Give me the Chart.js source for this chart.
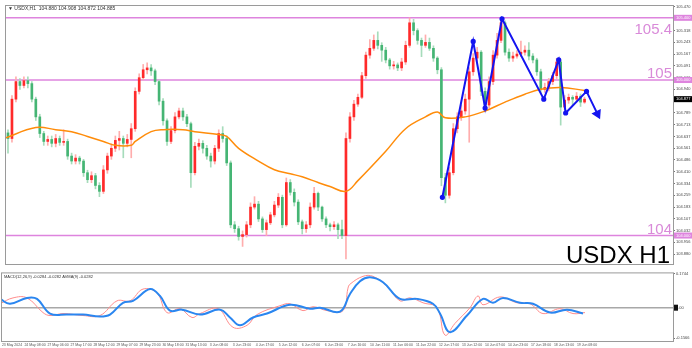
<!DOCTYPE html>
<html lang="en">
<head>
<meta charset="UTF-8">
<title>USDX H1</title>
<script src="https://cdn.jsdelivr.net/npm/chart.js"></script>
<style>
  body { margin: 0; background: #fff; }
  .painel { position: absolute; left: 0; width: 692px; }
  #principal { top: 0; height: 270px; }
  #inferior { top: 270px; height: 78px; }
</style>
</head>
<body>
<div class="painel" id="principal"><canvas id="grafPreco"></canvas></div>
<div class="painel" id="inferior"><canvas id="grafMacd"></canvas></div>

<script>
// ---- dados ----
var primeiraAbertura = 104.66;
var fechamentos = [104.624,104.877,104.990,104.965,104.996,104.977,104.877,104.763,104.656,104.605,
  104.618,104.593,104.624,104.599,104.605,104.511,104.479,104.498,104.479,104.404,
  104.359,104.385,104.322,104.284,104.422,104.511,104.561,104.612,104.624,104.593,
  104.618,104.687,104.927,105.015,105.066,105.078,105.059,104.990,104.864,104.738,
  104.605,104.675,104.763,104.801,104.763,104.719,104.404,104.574,104.593,104.561,
  104.511,104.479,104.561,104.656,104.624,104.467,104.069,104.044,103.994,104.006,
  104.069,104.183,104.202,104.107,104.038,104.082,104.133,104.196,104.246,104.069,
  104.341,104.278,104.215,104.088,104.044,104.069,104.183,104.271,104.183,104.107,
  104.069,104.057,104.069,104.038,104.000,104.624,104.763,104.845,104.889,105.028,
  105.160,105.204,105.255,105.223,105.192,105.129,105.091,105.097,105.078,105.116,
  105.223,105.368,105.318,105.255,105.223,105.242,105.204,105.141,105.066,104.372,
  104.259,104.404,104.687,104.763,104.801,104.877,105.053,105.141,105.179,104.927,
  104.839,104.990,105.160,105.255,105.368,105.179,105.141,105.154,105.167,105.179,
  105.192,105.154,105.129,105.053,104.940,104.952,104.990,105.028,105.116,104.826,
  104.871,104.889,104.877,104.896,104.858,104.877];
var maximas = [104.68,104.90,105.02,105.01,105.02,105.02,104.99,104.89,104.78,104.67,
  104.64,104.64,104.65,104.64,104.68,104.62,104.53,104.52,104.51,104.49,
  104.42,104.41,104.40,104.34,104.45,104.53,104.59,104.64,104.67,104.64,
  104.65,104.72,104.95,105.04,105.10,105.11,105.10,105.07,105.00,104.88,
  104.75,104.70,104.79,104.82,104.82,104.78,104.73,104.60,104.62,104.61,
  104.58,104.53,104.58,104.68,104.70,104.64,104.48,104.09,104.06,104.03,
  104.09,104.21,104.25,104.22,104.12,104.10,104.15,104.22,104.27,104.26,
  104.37,104.36,104.30,104.23,104.10,104.09,104.21,104.31,104.28,104.19,
  104.12,104.08,104.09,104.08,104.10,104.66,104.79,104.87,104.91,105.05,
  105.18,105.26,105.29,105.31,105.24,105.21,105.14,105.12,105.11,105.14,
  105.25,105.40,105.39,105.33,105.27,105.29,105.27,105.22,105.15,105.08,
  104.40,104.44,104.72,104.79,104.84,104.91,105.08,105.17,105.21,105.19,
  104.95,105.02,105.19,105.30,105.40,105.38,105.20,105.18,105.19,105.25,
  105.22,105.24,105.17,105.14,105.07,104.98,105.01,105.05,105.14,105.13,
  104.90,104.91,104.90,104.92,104.91,104.89];
var minimas = [104.53,104.60,104.86,104.94,104.95,104.95,104.86,104.74,104.63,104.58,
  104.58,104.57,104.57,104.58,104.58,104.49,104.46,104.46,104.46,104.38,
  104.34,104.34,104.30,104.25,104.27,104.40,104.49,104.54,104.55,104.50,
  104.57,104.50,104.67,104.91,105.00,105.04,105.03,104.97,104.84,104.71,
  104.58,104.59,104.66,104.75,104.74,104.70,104.31,104.39,104.55,104.53,
  104.49,104.44,104.46,104.54,104.60,104.45,104.05,104.02,103.97,103.93,
  103.99,104.05,104.17,104.09,104.02,104.00,104.07,104.12,104.18,104.05,
  104.06,104.26,104.19,104.07,104.01,104.02,104.05,104.17,104.16,104.09,
  104.05,104.03,104.04,103.98,103.98,103.85,104.60,104.74,104.83,104.88,
  105.01,105.14,105.19,105.20,105.12,105.11,105.07,105.07,105.06,105.06,
  105.10,105.21,105.29,105.23,105.15,105.21,105.19,105.12,105.04,104.32,
  104.21,104.24,104.39,104.66,104.74,104.78,104.60,105.03,105.12,104.90,
  104.81,104.82,104.97,105.14,105.24,105.16,105.12,105.12,105.14,105.15,
  105.16,105.13,105.11,105.03,104.92,104.92,104.93,104.97,105.01,104.71,
  104.81,104.85,104.84,104.86,104.83,104.85];

// media movel (laranja)
var mediaX = [-1, 7, 12, 16, 20, 24, 27, 31, 32, 36, 39, 44, 47, 53, 55, 58, 63, 67, 71, 74, 78, 81, 85, 88, 95, 100, 105, 108, 110, 115, 120, 125, 130, 134, 139, 145];
var mediaY = [104.624, 104.694, 104.681, 104.668, 104.637, 104.605, 104.580, 104.580, 104.605, 104.668, 104.681, 104.681, 104.668, 104.650, 104.637, 104.561, 104.479, 104.423, 104.397, 104.378, 104.341, 104.315, 104.284, 104.353, 104.542, 104.687, 104.763, 104.795, 104.757, 104.763, 104.801, 104.858, 104.909, 104.940, 104.952, 104.933];

// zigue-zague azul
var zigX = [109.25, 117, 120, 124.25, 134.75, 138.5, 140.25, 145.5, 148.25];
var zigY = [104.246, 105.248, 104.820, 105.394, 104.877, 105.129, 104.788, 104.927, 104.782];

// niveis horizontais
var niveis = [105.4, 105.0, 104.0];
var niveisTexto = ['105.4', '105', '104'];
var precoAtual = 104.877;

// eixo de precos
var eixoPreco = [105.470, 105.394, 105.318, 105.243, 105.167, 105.091, 105.016, 104.940, 104.864, 104.789, 104.713,
  104.637, 104.561, 104.486, 104.410, 104.334, 104.259, 104.183, 104.107, 104.032, 103.956, 103.880];

// MACD
var macdX = [-1, 1.5, 5.75, 8.25, 11.5, 15.75, 19.75, 24, 26.5, 29.75, 32.25, 36.5, 39, 41.5, 44.5, 49, 54, 56.5, 59, 62.25, 65.75, 71.5, 76.5, 79, 84, 86.5, 89, 91.5, 94.75, 99, 103.25, 107.25, 109, 111.5, 115.75, 119.75, 122.25, 124.75, 129, 132.25, 136.5, 140.75, 144.75];
var macdY = [0.045, 0.020, 0.050, 0.045, -0.030, -0.035, -0.035, -0.045, -0.035, 0.025, 0.035, 0.095, 0.060, -0.015, -0.010, -0.035, -0.010, -0.050, -0.090, -0.050, -0.030, 0.015, -0.005, 0.000, -0.020, 0.070, 0.135, 0.155, 0.130, 0.045, 0.045, 0.020, -0.030, -0.125, -0.040, 0.045, 0.025, 0.050, 0.025, 0.020, -0.025, -0.010, -0.030];
var sinalX = [-1, 2.25, 5.75, 9.75, 11.5, 14.75, 19.75, 24, 28.25, 31.5, 34.75, 38.25, 40.75, 44, 47, 49, 53.5, 57.25, 60.75, 63.25, 69, 71.5, 74.75, 77.25, 80.75, 84.75, 86, 86.5, 89.75, 92.25, 95.75, 99, 101.5, 104.75, 108.25, 110.25, 112.75, 116.5, 118.5, 119.75, 124, 128.25, 131.5, 134.75, 139, 142.25, 145.25];
var sinalY = [0.020, 0.050, 0.050, -0.025, -0.040, -0.030, -0.040, -0.040, 0.035, 0.035, 0.095, 0.075, -0.025, -0.005, -0.050, -0.030, -0.005, -0.100, -0.090, -0.035, 0.010, 0.020, -0.015, 0.005, -0.015, -0.015, 0.100, 0.120, 0.160, 0.160, 0.110, 0.035, 0.050, 0.025, 0.000, -0.140, -0.080, 0.000, 0.060, 0.015, 0.055, 0.025, 0.020, -0.030, -0.005, -0.030, -0.025];
var eixoMacd = [0.1744, 0, -0.1566];

var horarios = ['23 May 2024', '24 May 08:00', '27 May 06:00', '27 May 17:00', '28 May 12:00', '29 May 07:00', '29 May 23:00',
  '30 May 18:00', '31 May 13:00', '3 Jun 08:00', '3 Jun 23:00', '4 Jun 17:00', '5 Jun 12:00', '6 Jun 07:00', '6 Jun 23:00',
  '7 Jun 16:00', '10 Jun 11:00', '11 Jun 06:00', '11 Jun 22:00', '12 Jun 17:00', '13 Jun 12:00', '14 Jun 07:00',
  '14 Jun 23:00', '17 Jun 18:00', '18 Jun 13:00', '19 Jun 08:00'];

// ---- montagem ----
var corpos = [], pavios = [], corCorpo = [], corPavio = [];
for (var i = 0; i < fechamentos.length; i++) {
    var abre = i == 0 ? primeiraAbertura : fechamentos[i - 1];
    var sobe = fechamentos[i] >= abre;
    corpos.push({ x: i, y: [abre, fechamentos[i]] });
    pavios.push({ x: i, y: [minimas[i], maximas[i]] });
    corCorpo.push(sobe ? '#ff2a2a' : '#45b574');
    corPavio.push(sobe ? '#ffadad' : '#a6dcbb');
}

function pontos(xs, ys) {
    return xs.map(function (x, k) { return { x: x, y: ys[k] }; });
}

var X_MAX = 167.25;
var fonteEixo = '"Liberation Sans", Arial, sans-serif';

var linhasNivel = niveis.map(function (v) {
    return {
        type: 'line', data: [{ x: -0.5, y: v }, { x: X_MAX, y: v }],
        borderColor: '#de84de', borderWidth: 1.6, pointRadius: 0, order: 6
    };
});

var estiloZig = zigX.map(function (x, k) { return k == zigX.length - 1 ? 'triangle' : 'circle'; });
var raioZig = zigX.map(function (x, k) { return k == zigX.length - 1 ? 4 : 1.6; });

const desenhosPreco = {
    id: 'desenhosPreco',
    afterDraw(chart) {
        const ctx = chart.ctx, a = chart.chartArea, y = chart.scales.y;
        ctx.save();
        ctx.strokeStyle = '#9a9a9a';
        ctx.lineWidth = 1;
        ctx.strokeRect(a.left - 0.5, a.top - 0.5, a.right - a.left + 1, a.bottom - a.top + 1);

        // rotulos grandes dos niveis
        ctx.font = '15px ' + fonteEixo;
        ctx.fillStyle = '#d98ad9';
        ctx.textAlign = 'right';
        niveis.forEach(function (v, k) {
            var py = y.getPixelForValue(v);
            ctx.fillText(niveisTexto[k], a.right - 1, k == 0 ? py + 16 : py - 2);
        });

        ctx.fillStyle = '#000';
        ctx.font = '24px ' + fonteEixo;
        ctx.fillText('USDX H1', a.right - 3, a.bottom - 1);

        // caixas no eixo
        ctx.font = '4px ' + fonteEixo;
        ctx.textAlign = 'left';
        ctx.textBaseline = 'middle';
        niveis.forEach(function (v) {
            var py = y.getPixelForValue(v);
            ctx.fillStyle = '#de84de';
            ctx.fillRect(a.right + 1, py - 3, 18, 6);
            ctx.fillStyle = '#fff';
            ctx.fillText(v.toFixed(3), a.right + 3, py);
        });
        var pa = y.getPixelForValue(precoAtual);
        ctx.fillStyle = '#000';
        ctx.fillRect(a.right + 1, pa - 3, 18, 6);
        ctx.fillStyle = '#fff';
        ctx.fillText(precoAtual.toFixed(3), a.right + 3, pa);

        ctx.fillStyle = '#333';
        ctx.font = '5px ' + fonteEixo;
        ctx.fillText('\u25BC USDX,H1  104.880 104.908 104.872 104.885', a.left + 2, a.top + 3);
        ctx.restore();
    }
};

new Chart(document.getElementById('grafPreco'), {
    type: 'bar',
    data: {
        datasets: linhasNivel.concat([
            { type: 'bar', data: pavios, backgroundColor: corPavio, barThickness: 1, grouped: false, order: 5 },
            { type: 'bar', data: corpos, backgroundColor: corCorpo, barThickness: 2, minBarLength: 1, grouped: false, order: 4 },
            { type: 'line', data: pontos(mediaX, mediaY), borderColor: '#ff8c0a', borderWidth: 1.5, pointRadius: 0, tension: 0.4, order: 3 },
            {
                type: 'line', data: pontos(zigX, zigY), borderColor: '#1414f0', borderWidth: 2, tension: 0,
                pointStyle: estiloZig, pointRadius: raioZig, pointRotation: 154,
                pointBackgroundColor: '#1414f0', pointBorderColor: '#1414f0', order: 1
            }
        ])
    },
    options: {
        responsive: true, maintainAspectRatio: false, animation: false,
        layout: { padding: { top: 5, left: 2, bottom: 2, right: 0 } },
        plugins: { legend: { display: false }, tooltip: { enabled: false } },
        scales: {
            x: { type: 'linear', display: false, offset: false, min: -0.5, max: X_MAX },
            y: {
                position: 'right', min: 103.817, max: 105.476,
                afterFit: function (s) { s.width = 19; },
                afterBuildTicks: function (s) { s.ticks = eixoPreco.map(function (v) { return { value: v }; }); },
                ticks: { font: { size: 4, family: fonteEixo }, color: '#444', padding: 1, autoSkip: false,
                    callback: function (v) { return v.toFixed(3); } },
                grid: { drawOnChartArea: false, tickLength: 2, color: '#777' },
                border: { color: '#888' }
            }
        }
    },
    plugins: [desenhosPreco]
});

const desenhosMacd = {
    id: 'desenhosMacd',
    afterDraw(chart) {
        const ctx = chart.ctx, a = chart.chartArea, y = chart.scales.y;
        ctx.save();
        ctx.strokeStyle = '#9a9a9a';
        ctx.lineWidth = 1;
        ctx.strokeRect(a.left - 0.5, a.top - 0.5, a.right - a.left + 1, a.bottom - a.top + 1);
        var z = y.getPixelForValue(0);
        ctx.fillStyle = '#111';
        ctx.fillRect(a.right + 1, z - 3, 4, 6);
        ctx.fillStyle = '#333';
        ctx.font = '4px ' + fonteEixo;
        ctx.textBaseline = 'middle';
        ctx.fillText('MACD(12,26,9) -0.0284 -0.0282 AVMA(9) -0.0282', a.left + 2, a.top + 3);
        ctx.restore();
    }
};

new Chart(document.getElementById('grafMacd'), {
    type: 'line',
    data: {
        datasets: [
            { data: [{ x: -0.5, y: 0 }, { x: X_MAX, y: 0 }], borderColor: '#a8a8a8', borderWidth: 1.5, pointRadius: 0, order: 3 },
            { data: pontos(sinalX, sinalY), borderColor: '#ff8c8c', borderWidth: 1, pointRadius: 0, tension: 0.4, order: 2 },
            { data: pontos(macdX, macdY), borderColor: '#2a86f0', borderWidth: 2, pointRadius: 0, tension: 0.4, order: 1 }
        ]
    },
    options: {
        responsive: true, maintainAspectRatio: false, animation: false,
        layout: { padding: { top: 2, left: 2, bottom: 0, right: 0 } },
        plugins: { legend: { display: false }, tooltip: { enabled: false } },
        scales: {
            x: {
                type: 'linear', offset: false, min: -0.5, max: X_MAX,
                afterFit: function (s) { s.height = 7; s.paddingLeft = 0; s.paddingRight = 0; },
                afterBuildTicks: function (s) { s.ticks = horarios.map(function (h, k) { return { value: 2 + k * 5.75 }; }); },
                ticks: { font: { size: 3.5, family: fonteEixo }, color: '#555', padding: 1, maxRotation: 0, autoSkip: false,
                    callback: function (v, k) { return horarios[k]; } },
                grid: { drawOnChartArea: false, tickLength: 1, color: '#777' },
                border: { color: '#888' }
            },
            y: {
                position: 'right', min: -0.17, max: 0.175,
                afterFit: function (s) { s.width = 19; },
                afterBuildTicks: function (s) { s.ticks = eixoMacd.map(function (v) { return { value: v }; }); },
                ticks: { font: { size: 4, family: fonteEixo }, color: '#444', padding: 1, autoSkip: false,
                    callback: function (v) { return v == 0 ? '0.00' : v.toFixed(4); } },
                grid: { drawOnChartArea: false, tickLength: 2, color: '#777' },
                border: { color: '#888' }
            }
        }
    },
    plugins: [desenhosMacd]
});
</script>
</body>
</html>
